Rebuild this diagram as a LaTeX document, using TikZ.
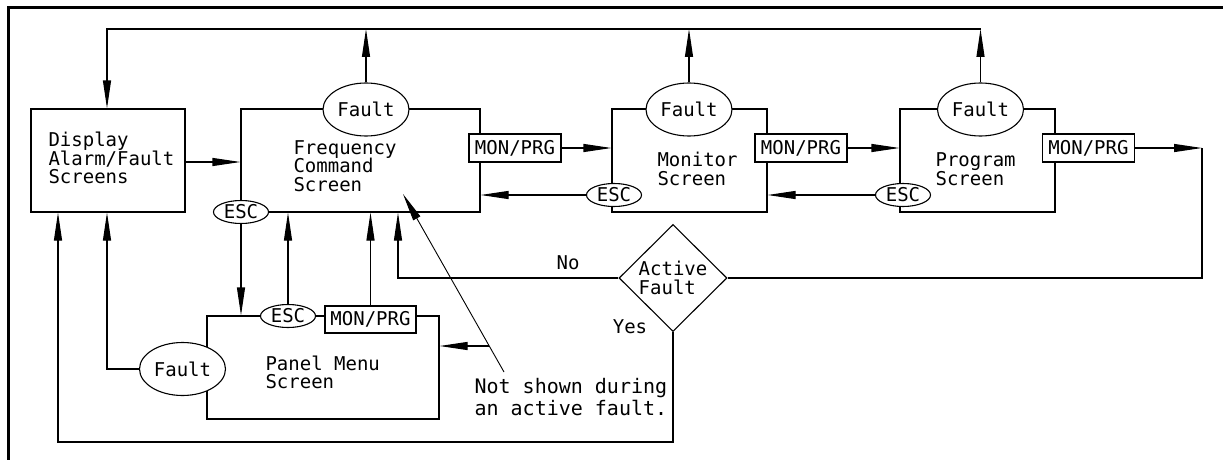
\documentclass[tikz,border=0pt]{standalone}
\usepackage{fontspec}
\setmainfont{DejaVu Sans Mono}
\usetikzlibrary{arrows.meta,shapes.geometric}
\newcommand{\dfont}{\fontsize{19}{18.5}\selectfont}
\newcommand{\nfont}{\fontsize{20}{22}\selectfont}
\begin{document}
\begin{tikzpicture}[x=1pt,y=-1pt, line width=1.1pt,
  arr/.style={-{Triangle[length=28pt,width=8pt]}},
  scr/.style={draw, rectangle, inner sep=0pt},
  fault/.style={draw, ellipse, fill=white, minimum width=86pt, minimum height=53pt, inner sep=0pt, font=\dfont},
  esc/.style={draw, ellipse, fill=white, minimum width=55pt, minimum height=23pt, inner sep=0pt, font=\dfont},
  key/.style={draw, rectangle, fill=white, minimum width=92pt, minimum height=28pt, inner sep=0pt, font=\dfont},
  txt/.style={anchor=west, align=left, inner sep=0pt, font=\dfont},
]
\useasboundingbox (0,0) rectangle (1223,460);
% frame
\draw[line width=3pt] (1223,8) -- (8,8) -- (8,460);

% screens
\node[scr, minimum width=154pt, minimum height=103pt] (disp) at (108,160.5) {};
\node[scr, minimum width=239pt, minimum height=103pt] (freq) at (360.5,160.5) {};
\node[scr, minimum width=155pt, minimum height=103pt] (mon) at (689.5,160.5) {};
\node[scr, minimum width=155pt, minimum height=103pt] (prog) at (977.5,160.5) {};
\node[scr, minimum width=232pt, minimum height=103pt] (panel) at (323,367.5) {};

% screen texts
\node[txt] (disptxt) at (48,158) {Display\\Alarm/Fault\\Screens};
\node[txt] (freqtxt) at (293,166) {Frequency\\Command\\Screen};
\node[txt] (montxt) at (657,169) {Monitor\\Screen};
\node[txt] (progtxt) at (935,169) {Program\\Screen};
\node[txt] (paneltxt) at (265,372.5) {Panel Menu\\Screen};

% faults
\node[fault] (freqfault) at (366,109.5) {Fault};
\node[fault] (monfault) at (689,109.5) {Fault};
\node[fault] (progfault) at (980.5,109.5) {Fault};
\node[fault] (panfault) at (182.5,369) {Fault};

% ESC
\node[esc] (freqesc) at (241,212) {ESC};
\node[esc] (monesc) at (614,195) {ESC};
\node[esc] (progesc) at (903,195) {ESC};
\node[esc] (panesc) at (288,316) {ESC};

% MON/PRG keys
\node[key] (freqmp) at (515,148) {MON/PRG};
\node[key] (monmp) at (801,148) {MON/PRG};
\node[key] (progmp) at (1088.5,148) {MON/PRG};
\node[key, minimum width=91pt, minimum height=27pt] (panmp) at (370.5,319.5) {MON/PRG};

% decision
\node[draw, diamond, minimum width=108pt, minimum height=107pt, inner sep=0pt, align=left, font=\dfont] (dia) at (673,278) {Active\\Fault};
\node[inner sep=0pt, font=\dfont] (no) at (568,263) {No};
\node[inner sep=0pt, font=\dfont] (yes) at (630,327) {Yes};

% note
\node[anchor=west, align=left, inner sep=0pt, font=\nfont] (note) at (474,397) {Not shown during\\an active fault.};

% coordinates
\coordinate (tl) at (107,29);
\coordinate (tr) at (980.5,29);
\coordinate (ra) at (1202,148);
\coordinate (nc) at (398,278);
\coordinate (pf) at (107,369);
\coordinate (bl) at (58,442);
\coordinate (ls) at (504,372);
\coordinate (lt) at (403,194);
\coordinate (lp) at (489,346);

% top loop
\draw[arr] (freqfault.north) -- (freqfault.north |- tr);
\draw[arr] (monfault.north) -- (monfault.north |- tr);
\draw[arr] (progfault.north) -- (tr);
\draw[arr] (tr) -- (tl) -- (disp.north -| tl);

% horizontal flow
\draw[arr] (disp.east |- 0,162) -- (freq.west |- 0,162);
\draw[arr] (freqmp.east) -- (freqmp.east -| mon.west);
\draw[arr] (monmp.east) -- (monmp.east -| prog.west);
\draw[arr] (progmp.east) -- (ra);
\draw (ra) -- (ra |- dia.east) -- (dia.east);
\draw[arr] (monesc.west) -- (monesc.west -| freq.east);
\draw[arr] (progesc.west) -- (progesc.west -| mon.east);

% vertical flow
\draw[arr] (freqesc.south) -- (freqesc.south |- panel.north);
\draw[arr] (panesc.north) -- (panesc.north |- freq.south);
\draw[arr] (panmp.north) -- (panmp.north |- freq.south);
\draw[arr] (dia.west) -- (nc) -- (nc |- freq.south);
\draw[arr] (panfault.west) -- (pf) -- (pf |- disp.south);
\draw[arr] (dia.south) -- (dia.south |- bl) -- (bl) -- (bl |- disp.south);

% note leaders
\draw[line width=0.9pt, arr] (ls) -- (lt);
\draw[arr] (lp) -- (lp -| panel.east);
\end{tikzpicture}
\end{document}
